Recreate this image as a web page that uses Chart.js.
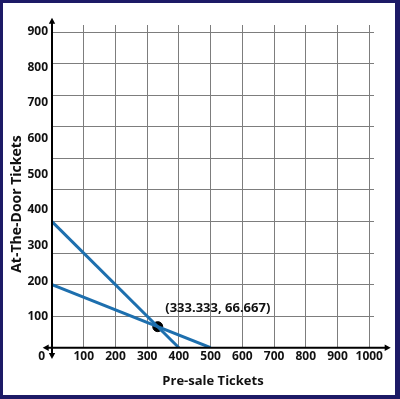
<!DOCTYPE html>
<html><head><meta charset="utf-8">
<script src="https://cdn.jsdelivr.net/npm/chart.js@4/dist/chart.umd.min.js"></script>
<style>html,body{margin:0;padding:0;background:#fff;}canvas{display:block;}</style>
</head><body>
<canvas id="c" width="400" height="399"></canvas>
<script>
// ---- data ----
const xTickValues = [0, 100, 200, 300, 400, 500, 600, 700, 800, 900, 1000];
const yTickLabels = [0, 100, 200, 300, 400, 500, 600, 700, 800, 900];
const lineA = [{x: 0, y: 400}, {x: 400, y: 0}];   // x + y = 400
const lineB = [{x: 0, y: 200}, {x: 500, y: 0}];   // 2x + 5y = 1000
const solution = [{x: 333.333, y: 66.667}];
const solutionLabel = '(333.333, 66.667)';
const xTitle = 'Pre-sale Tickets';
const yTitle = 'At-The-Door Tickets';

// ---- styles ----
const FONT = "'Open Sans', sans-serif";
const BLUE = '#1d6fae';
const NAVY = '#1d1a66';
const GRID = '#7d7d7d';

const framePlugin = {
  id: 'frame',
  beforeDraw(chart) {
    const {ctx, width, height} = chart;
    ctx.save();
    ctx.fillStyle = NAVY;
    ctx.fillRect(0, 0, width, height);
    ctx.fillStyle = '#ffffff';
    ctx.fillRect(3, 3, width - 8, height - 7);
    ctx.restore();
  }
};

function arrow(ctx, x, y, dx, dy) {
  const L = 6, W = 3.2;
  const px = -dy, py = dx;
  ctx.beginPath();
  ctx.moveTo(x, y);
  ctx.lineTo(x - dx * L + px * W, y - dy * L + py * W);
  ctx.lineTo(x - dx * L - px * W, y - dy * L - py * W);
  ctx.closePath();
  ctx.fill();
}

const axesPlugin = {
  id: 'axesArrows',
  afterDatasetsDraw(chart) {
    const {ctx} = chart;
    const xs = chart.scales.x, ys = chart.scales.y;
    const ox = xs.getPixelForValue(0), oy = ys.getPixelForValue(0);
    const xL = ox - 9.3, xR = xs.right + 16.7;
    const yT = chart.chartArea.top - 7.3, yB = oy + 11.3;
    ctx.save();
    ctx.strokeStyle = '#000'; ctx.fillStyle = '#000'; ctx.lineWidth = 2;
    ctx.beginPath(); ctx.moveTo(xL + 3, oy); ctx.lineTo(xR - 3, oy); ctx.stroke();
    ctx.beginPath(); ctx.moveTo(ox, yT + 3); ctx.lineTo(ox, yB - 3); ctx.stroke();
    arrow(ctx, xR, oy, 1, 0);
    arrow(ctx, xL, oy, -1, 0);
    arrow(ctx, ox, yT, 0, -1);
    arrow(ctx, ox, yB, 0, 1);
    // origin label
    ctx.font = 'bold 12px ' + FONT;
    ctx.textAlign = 'center'; ctx.textBaseline = 'middle';
    ctx.fillStyle = '#111';
    ctx.fillText(String(yTickLabels[0]), ox - 10.3, oy + 9.2);
    // solution label
    const pt = chart.getDatasetMeta(2).data[0];
    ctx.font = 'bold 13px ' + FONT;
    ctx.textAlign = 'left';
    ctx.fillText(solutionLabel, pt.x + 7.5, pt.y - 18);
    ctx.restore();
  }
};

new Chart(document.getElementById('c'), {
  type: 'scatter',
  data: {
    datasets: [
      {data: lineA, showLine: true, borderColor: BLUE, borderWidth: 3, pointRadius: 0, xAxisID: 'x', yAxisID: 'y'},
      {data: lineB, showLine: true, borderColor: BLUE, borderWidth: 3, pointRadius: 0, xAxisID: 'x', yAxisID: 'y'},
      {data: solution, showLine: false, pointRadius: 5, backgroundColor: '#000', borderColor: '#000', xAxisID: 'x', yAxisID: 'y'}
    ]
  },
  options: {
    responsive: false,
    animation: false,
    devicePixelRatio: 1,
    layout: {padding: {top: 9, left: 0, right: 26, bottom: 0}},
    plugins: {
      legend: {display: false},
      tooltip: {enabled: false},
      title: {
        display: true, position: 'left', text: yTitle, color: '#111',
        font: {family: FONT, size: 14, weight: 'bold', lineHeight: 1.2},
        padding: {top: 8.3, bottom: 2}
      }
    },
    scales: {
      xTop: {
        type: 'linear', position: 'top', display: true,
        ticks: {display: false}, grid: {display: false}, border: {display: false},
        afterFit(s) { s.height = 16; }
      },
      x: {
        type: 'linear', position: 'bottom', min: 0, max: 1015,
        afterBuildTicks(s) { s.ticks = xTickValues.map(v => ({value: v})); },
        ticks: {
          includeBounds: false, stepSize: 100, autoSkip: false, maxRotation: 0, padding: 2,
          color: '#111', font: {family: FONT, size: 12, weight: 'bold'},
          callback: v => (v === 0 ? '' : String(v))
        },
        grid: {color: GRID, lineWidth: 1, drawTicks: false},
        border: {display: false},
        title: {
          display: true, text: xTitle, color: '#111',
          font: {family: FONT, size: 13, weight: 'bold', lineHeight: 1.2},
          padding: {top: 0, bottom: 9.5}
        },
        afterFit(s) { s.height = 51.3; }
      },
      y: {
        type: 'linear', position: 'left', min: 0, max: 1023,
        ticks: {display: false, stepSize: 100, includeBounds: false},
        grid: {color: GRID, lineWidth: 1, drawTicks: false},
        border: {display: false},
        afterFit(s) { s.width = 0; }
      },
      yL: {
        type: 'linear', position: 'left', min: 13, max: 918.8,
        afterBuildTicks(s) { s.ticks = yTickLabels.slice(1).map(v => ({value: v})); },
        ticks: {
          includeBounds: false, stepSize: 100, autoSkip: false, padding: 4,
          color: '#111', font: {family: FONT, size: 12, weight: 'bold'}
        },
        grid: {display: false, drawTicks: false},
        border: {display: false},
        afterFit(s) { s.width = 24.9; }
      }
    }
  },
  plugins: [framePlugin, axesPlugin]
});
</script>
</body></html>
